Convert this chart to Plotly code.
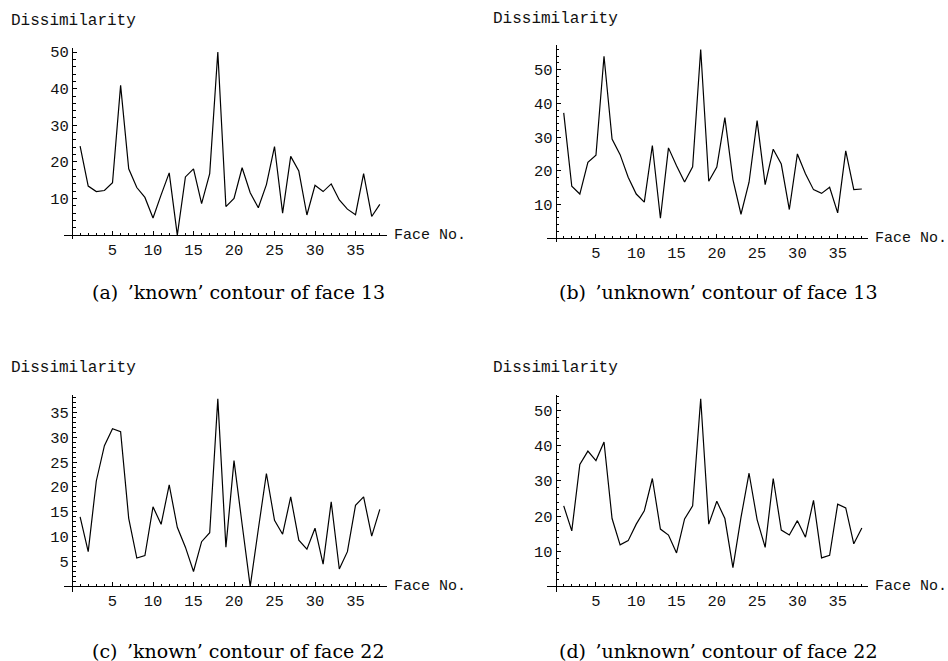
import plotly.graph_objects as go

faces = list(range(1, 39))

known13 = [24.3, 13.4, 11.9, 12.2, 14.3, 40.9, 18.1, 13.0, 10.3, 4.7,
           11.0, 17.0, 0.0, 15.9, 18.1, 8.6, 16.8, 50.0, 7.8, 10.0,
           18.4, 11.6, 7.5, 13.8, 24.2, 6.0, 21.5, 17.5, 5.5, 13.6,
           11.9, 14.0, 9.6, 7.1, 5.6, 16.8, 5.1, 8.4]

unknown13 = [37.2, 15.4, 13.1, 22.5, 24.6, 54.0, 29.4, 24.8, 18.1, 13.1,
             10.7, 27.5, 5.9, 26.8, 21.5, 16.7, 21.2, 56.0, 16.9, 21.1,
             35.8, 17.4, 7.1, 16.6, 34.9, 15.9, 26.4, 22.0, 8.5, 25.0,
             19.1, 14.4, 13.3, 15.1, 7.5, 25.9, 14.4, 14.6]

known22 = [14.0, 7.0, 21.2, 28.3, 31.7, 31.1, 13.7, 5.7, 6.2, 16.0,
           12.5, 20.4, 11.9, 7.9, 3.0, 9.0, 10.8, 37.7, 7.9, 25.3,
           12.5, 0.0, 11.5, 22.7, 13.3, 10.5, 18.0, 9.3, 7.5, 11.7,
           4.5, 17.0, 3.5, 7.0, 16.3, 18.0, 10.1, 15.5]

unknown22 = [22.9, 15.8, 34.7, 38.5, 35.8, 41.1, 19.3, 11.8, 13.0, 17.7,
             21.5, 30.7, 16.3, 14.6, 9.5, 19.2, 22.9, 53.4, 17.7, 24.2,
             19.3, 5.3, 19.6, 32.2, 19.0, 11.1, 30.7, 16.0, 14.6, 18.7,
             14.0, 24.5, 8.1, 8.8, 23.4, 22.3, 12.1, 16.6]

x_ticks = [5, 10, 15, 20, 25, 30, 35]
y_ticks_a = [10, 20, 30, 40, 50]
y_ticks_b = [10, 20, 30, 40, 50]
y_ticks_c = [5, 10, 15, 20, 25, 30, 35]
y_ticks_d = [10, 20, 30, 40, 50]

captions = ["(a)\u2002\u2019known\u2019 contour of face 13",
            "(b)\u2002\u2019unknown\u2019 contour of face 13",
            "(c)\u2002\u2019known\u2019 contour of face 22",
            "(d)\u2002\u2019unknown\u2019 contour of face 22"]

W, H = 948, 661
MONO = "Liberation Mono"
SERIF = "DejaVu Serif"

panels = [
    dict(y=known13, yt=y_ticks_a, ystep=2, xpx=(63.5, 386.7), xr=(-1.05, 38.85),
         ypx=(236.6, 44.3), yr=(-1.1, 51.1), cap=(238, 290)),
    dict(y=unknown13, yt=y_ticks_b, ystep=2, xpx=(547.2, 868.3), xr=(-1.05, 38.8),
         ypx=(239.5, 41.7), yr=(-1.15, 57.2), cap=(718, 290)),
    dict(y=known22, yt=y_ticks_c, ystep=1, xpx=(63.5, 386.7), xr=(-1.05, 38.85),
         ypx=(591.5, 393.3), yr=(-1.1, 38.5), cap=(238, 651)),
    dict(y=unknown22, yt=y_ticks_d, ystep=2, xpx=(547.2, 868.3), xr=(-1.05, 38.8),
         ypx=(591.5, 393.3), yr=(-1.6, 54.5), cap=(718, 651)),
]

fig = go.Figure()
annotations = []
layout = {}

for i, p in enumerate(panels, start=1):
    xa = "xaxis" if i == 1 else f"xaxis{i}"
    ya = "yaxis" if i == 1 else f"yaxis{i}"
    xref = "x" if i == 1 else f"x{i}"
    yref = "y" if i == 1 else f"y{i}"
    fig.add_trace(go.Scatter(x=faces, y=p["y"], mode="lines",
                             line=dict(color="black", width=1.2),
                             xaxis=xref, yaxis=yref, showlegend=False,
                             hoverinfo="skip"))
    x0p, x1p = p["xpx"]
    ybp, ytp = p["ypx"]
    xr, yr = p["xr"], p["yr"]
    zero_x_px = x0p + (0 - xr[0]) / (xr[1] - xr[0]) * (x1p - x0p)
    zero_y_px = ybp - (0 - yr[0]) / (yr[1] - yr[0]) * (ybp - ytp)
    xminor = [v for v in range(1, 39) if v % 5 != 0]
    ymax = int(yr[1])
    yminor = [v for v in range(p["ystep"], ymax + 1, p["ystep"]) if v not in p["yt"]]
    layout[xa] = dict(domain=[x0p / W, x1p / W], range=list(xr), anchor="free",
                      position=1 - zero_y_px / H, showline=True, linecolor="black",
                      linewidth=1, showgrid=False, zeroline=False,
                      tickmode="array", tickvals=x_ticks, ticks="inside",
                      ticklen=4, tickcolor="black", tickwidth=1,
                      tickfont=dict(family=MONO, size=15.5, color="#111"),
                      minor=dict(tickmode="array", tickvals=xminor, ticks="inside",
                                 ticklen=2.5, tickcolor="black", tickwidth=1,
                                 showgrid=False))
    layout[ya] = dict(domain=[1 - ybp / H, 1 - ytp / H], range=list(yr), anchor="free",
                      position=zero_x_px / W, showline=True, linecolor="black",
                      linewidth=1, showgrid=False, zeroline=False,
                      tickmode="array", tickvals=p["yt"], ticks="inside",
                      ticklen=4, tickcolor="black", tickwidth=1,
                      tickfont=dict(family=MONO, size=15.5, color="#111"),
                      minor=dict(tickmode="array", tickvals=yminor, ticks="inside",
                                 ticklen=2.5, tickcolor="black", tickwidth=1,
                                 showgrid=False))
    lab_x = 9 if x0p < 400 else 491
    annotations.append(dict(text="Dissimilarity", xref="paper", yref="paper",
                            x=lab_x / W, y=1 - (ytp - 27) / H, xanchor="left",
                            yanchor="middle", showarrow=False,
                            font=dict(family=MONO, size=16, color="#111")))
    annotations.append(dict(text="Face No.", xref="paper", yref="paper",
                            x=(x1p + 5) / W, y=1 - zero_y_px / H, xanchor="left",
                            yanchor="middle", showarrow=False,
                            font=dict(family=MONO, size=15, color="#111")))
    cx, cy = p["cap"]
    annotations.append(dict(text=captions[i - 1], xref="paper", yref="paper",
                            x=cx / W, y=1 - cy / H, xanchor="center",
                            yanchor="middle", showarrow=False,
                            font=dict(family=SERIF, size=19, color="black")))

fig.update_layout(width=W, height=H, margin=dict(l=0, r=0, t=0, b=0),
                  paper_bgcolor="white", plot_bgcolor="white",
                  annotations=annotations, **layout)

fig.write_html("out.html")
